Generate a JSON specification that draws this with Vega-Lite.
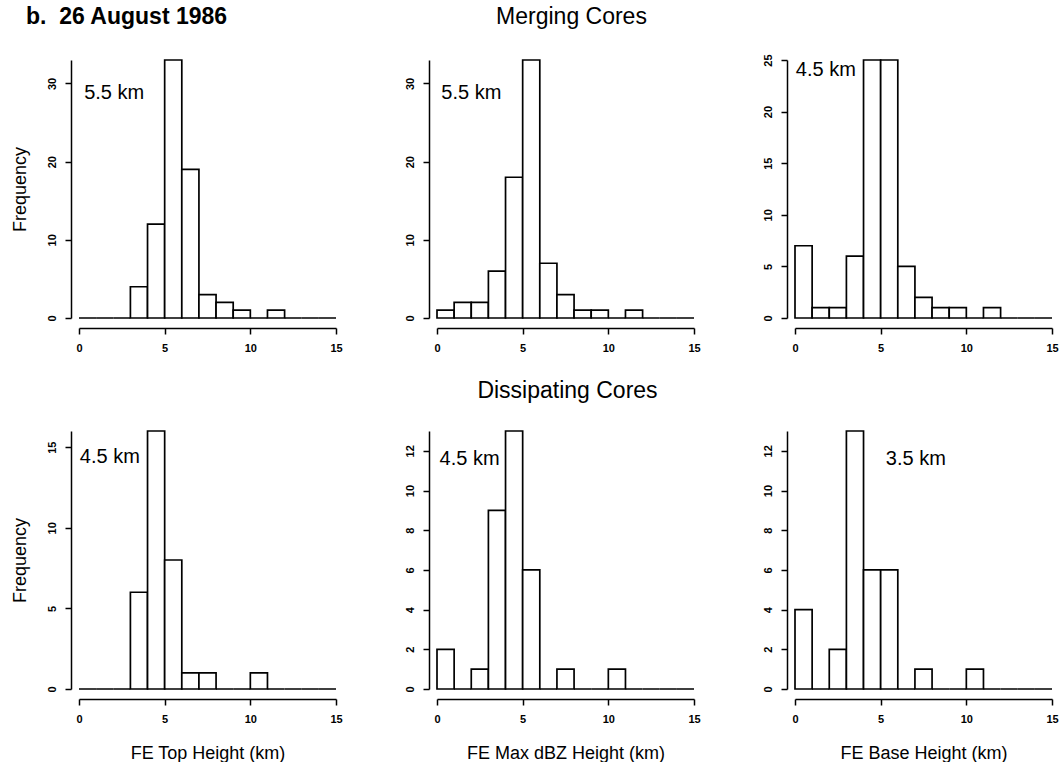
{
  "$schema": "https://vega.github.io/schema/vega-lite/v6.json",
  "padding": {"left": 11, "top": 6, "right": 0, "bottom": 0},
  "background": "white",
  "config": {
    "view": {"stroke": null},
    "font": "Liberation Sans",
    "axis": {
      "grid": false,
      "domainColor": "black",
      "domainWidth": 1.5,
      "tickColor": "black",
      "tickWidth": 1.5,
      "tickSize": 6,
      "labelFont": "Liberation Sans",
      "labelFontWeight": "bold",
      "labelFontSize": 11,
      "labelColor": "black",
      "titleFont": "Liberation Sans",
      "titleFontWeight": "normal",
      "titleFontSize": 18,
      "titleColor": "black"
    },
    "axisX": {"offset": 10, "labelPadding": 8, "titlePadding": 20, "labelFlush": false},
    "axisY": {"offset": 8, "labelAngle": 270, "labelAlign": "center", "labelBaseline": "bottom", "labelPadding": 8, "titlePadding": 17},
    "title": {"font": "Liberation Sans", "fontSize": 23, "color": "black", "fontWeight": "normal", "baseline": "alphabetic", "offset": 30},
    "text": {"font": "Liberation Sans", "fontSize": 20, "color": "black"}
  },
  "datasets": {
    "bins": [
      {"panel": "p1", "x0": 0, "x1": 1, "count": 0},
      {"panel": "p1", "x0": 1, "x1": 2, "count": 0},
      {"panel": "p1", "x0": 2, "x1": 3, "count": 0},
      {"panel": "p1", "x0": 3, "x1": 4, "count": 4},
      {"panel": "p1", "x0": 4, "x1": 5, "count": 12},
      {"panel": "p1", "x0": 5, "x1": 6, "count": 33},
      {"panel": "p1", "x0": 6, "x1": 7, "count": 19},
      {"panel": "p1", "x0": 7, "x1": 8, "count": 3},
      {"panel": "p1", "x0": 8, "x1": 9, "count": 2},
      {"panel": "p1", "x0": 9, "x1": 10, "count": 1},
      {"panel": "p1", "x0": 10, "x1": 11, "count": 0},
      {"panel": "p1", "x0": 11, "x1": 12, "count": 1},
      {"panel": "p1", "x0": 12, "x1": 13, "count": 0},
      {"panel": "p1", "x0": 13, "x1": 14, "count": 0},
      {"panel": "p1", "x0": 14, "x1": 15, "count": 0},
      {"panel": "p2", "x0": 0, "x1": 1, "count": 1},
      {"panel": "p2", "x0": 1, "x1": 2, "count": 2},
      {"panel": "p2", "x0": 2, "x1": 3, "count": 2},
      {"panel": "p2", "x0": 3, "x1": 4, "count": 6},
      {"panel": "p2", "x0": 4, "x1": 5, "count": 18},
      {"panel": "p2", "x0": 5, "x1": 6, "count": 33},
      {"panel": "p2", "x0": 6, "x1": 7, "count": 7},
      {"panel": "p2", "x0": 7, "x1": 8, "count": 3},
      {"panel": "p2", "x0": 8, "x1": 9, "count": 1},
      {"panel": "p2", "x0": 9, "x1": 10, "count": 1},
      {"panel": "p2", "x0": 10, "x1": 11, "count": 0},
      {"panel": "p2", "x0": 11, "x1": 12, "count": 1},
      {"panel": "p2", "x0": 12, "x1": 13, "count": 0},
      {"panel": "p2", "x0": 13, "x1": 14, "count": 0},
      {"panel": "p2", "x0": 14, "x1": 15, "count": 0},
      {"panel": "p3", "x0": 0, "x1": 1, "count": 7},
      {"panel": "p3", "x0": 1, "x1": 2, "count": 1},
      {"panel": "p3", "x0": 2, "x1": 3, "count": 1},
      {"panel": "p3", "x0": 3, "x1": 4, "count": 6},
      {"panel": "p3", "x0": 4, "x1": 5, "count": 25},
      {"panel": "p3", "x0": 5, "x1": 6, "count": 25},
      {"panel": "p3", "x0": 6, "x1": 7, "count": 5},
      {"panel": "p3", "x0": 7, "x1": 8, "count": 2},
      {"panel": "p3", "x0": 8, "x1": 9, "count": 1},
      {"panel": "p3", "x0": 9, "x1": 10, "count": 1},
      {"panel": "p3", "x0": 10, "x1": 11, "count": 0},
      {"panel": "p3", "x0": 11, "x1": 12, "count": 1},
      {"panel": "p3", "x0": 12, "x1": 13, "count": 0},
      {"panel": "p3", "x0": 13, "x1": 14, "count": 0},
      {"panel": "p3", "x0": 14, "x1": 15, "count": 0},
      {"panel": "p4", "x0": 0, "x1": 1, "count": 0},
      {"panel": "p4", "x0": 1, "x1": 2, "count": 0},
      {"panel": "p4", "x0": 2, "x1": 3, "count": 0},
      {"panel": "p4", "x0": 3, "x1": 4, "count": 6},
      {"panel": "p4", "x0": 4, "x1": 5, "count": 16},
      {"panel": "p4", "x0": 5, "x1": 6, "count": 8},
      {"panel": "p4", "x0": 6, "x1": 7, "count": 1},
      {"panel": "p4", "x0": 7, "x1": 8, "count": 1},
      {"panel": "p4", "x0": 8, "x1": 9, "count": 0},
      {"panel": "p4", "x0": 9, "x1": 10, "count": 0},
      {"panel": "p4", "x0": 10, "x1": 11, "count": 1},
      {"panel": "p4", "x0": 11, "x1": 12, "count": 0},
      {"panel": "p4", "x0": 12, "x1": 13, "count": 0},
      {"panel": "p4", "x0": 13, "x1": 14, "count": 0},
      {"panel": "p4", "x0": 14, "x1": 15, "count": 0},
      {"panel": "p5", "x0": 0, "x1": 1, "count": 2},
      {"panel": "p5", "x0": 1, "x1": 2, "count": 0},
      {"panel": "p5", "x0": 2, "x1": 3, "count": 1},
      {"panel": "p5", "x0": 3, "x1": 4, "count": 9},
      {"panel": "p5", "x0": 4, "x1": 5, "count": 13},
      {"panel": "p5", "x0": 5, "x1": 6, "count": 6},
      {"panel": "p5", "x0": 6, "x1": 7, "count": 0},
      {"panel": "p5", "x0": 7, "x1": 8, "count": 1},
      {"panel": "p5", "x0": 8, "x1": 9, "count": 0},
      {"panel": "p5", "x0": 9, "x1": 10, "count": 0},
      {"panel": "p5", "x0": 10, "x1": 11, "count": 1},
      {"panel": "p5", "x0": 11, "x1": 12, "count": 0},
      {"panel": "p5", "x0": 12, "x1": 13, "count": 0},
      {"panel": "p5", "x0": 13, "x1": 14, "count": 0},
      {"panel": "p5", "x0": 14, "x1": 15, "count": 0},
      {"panel": "p6", "x0": 0, "x1": 1, "count": 4},
      {"panel": "p6", "x0": 1, "x1": 2, "count": 0},
      {"panel": "p6", "x0": 2, "x1": 3, "count": 2},
      {"panel": "p6", "x0": 3, "x1": 4, "count": 13},
      {"panel": "p6", "x0": 4, "x1": 5, "count": 6},
      {"panel": "p6", "x0": 5, "x1": 6, "count": 6},
      {"panel": "p6", "x0": 6, "x1": 7, "count": 0},
      {"panel": "p6", "x0": 7, "x1": 8, "count": 1},
      {"panel": "p6", "x0": 8, "x1": 9, "count": 0},
      {"panel": "p6", "x0": 9, "x1": 10, "count": 0},
      {"panel": "p6", "x0": 10, "x1": 11, "count": 1},
      {"panel": "p6", "x0": 11, "x1": 12, "count": 0},
      {"panel": "p6", "x0": 12, "x1": 13, "count": 0},
      {"panel": "p6", "x0": 13, "x1": 14, "count": 0},
      {"panel": "p6", "x0": 14, "x1": 15, "count": 0}
    ],
    "notes": [
      {"panel": "p1", "label": "5.5 km"},
      {"panel": "p2", "label": "5.5 km"},
      {"panel": "p3", "label": "4.5 km"},
      {"panel": "p4", "label": "4.5 km"},
      {"panel": "p5", "label": "4.5 km"},
      {"panel": "p6", "label": "3.5 km"}
    ]
  },
  "columns": 3,
  "spacing": {"row": 113, "column": 101},
  "bounds": "flush",
  "concat": [
    {
      "width": 257, "height": 258,
      "title": {"text": "b.\u00a0 26 August 1986", "anchor": "start", "frame": "group", "dx": -53, "fontWeight": "bold"},
      "layer": [
        {
          "data": {"name": "bins"},
          "transform": [{"filter": "datum.panel == 'p1'"}],
          "mark": {"type": "rect", "fill": "white", "stroke": "black", "strokeWidth": 1.7},
          "encoding": {
            "x": {"field": "x0", "type": "quantitative", "scale": {"domain": [0, 15], "nice": false, "zero": false}, "axis": {"values": [0, 5, 10, 15], "title": null}},
            "x2": {"field": "x1"},
            "y": {"field": "count", "type": "quantitative", "scale": {"domain": [0, 33], "nice": false}, "axis": {"values": [0, 10, 20, 30], "title": "Frequency"}},
            "y2": {"datum": 0}
          }
        },
        {
          "data": {"name": "notes"},
          "transform": [{"filter": "datum.panel == 'p1'"}],
          "mark": {"type": "text", "align": "left", "baseline": "middle"},
          "encoding": {
            "x": {"datum": 0.3, "type": "quantitative"},
            "y": {"datum": 28.8, "type": "quantitative"},
            "text": {"field": "label"}
          }
        }
      ]
    },
    {
      "width": 257, "height": 258,
      "title": {"text": "Merging Cores", "anchor": "middle", "frame": "group", "dx": 6},
      "layer": [
        {
          "data": {"name": "bins"},
          "transform": [{"filter": "datum.panel == 'p2'"}],
          "mark": {"type": "rect", "fill": "white", "stroke": "black", "strokeWidth": 1.7},
          "encoding": {
            "x": {"field": "x0", "type": "quantitative", "scale": {"domain": [0, 15], "nice": false, "zero": false}, "axis": {"values": [0, 5, 10, 15], "title": null}},
            "x2": {"field": "x1"},
            "y": {"field": "count", "type": "quantitative", "scale": {"domain": [0, 33], "nice": false}, "axis": {"values": [0, 10, 20, 30], "title": null}},
            "y2": {"datum": 0}
          }
        },
        {
          "data": {"name": "notes"},
          "transform": [{"filter": "datum.panel == 'p2'"}],
          "mark": {"type": "text", "align": "left", "baseline": "middle"},
          "encoding": {
            "x": {"datum": 0.25, "type": "quantitative"},
            "y": {"datum": 28.8, "type": "quantitative"},
            "text": {"field": "label"}
          }
        }
      ]
    },
    {
      "width": 257, "height": 258,
      "layer": [
        {
          "data": {"name": "bins"},
          "transform": [{"filter": "datum.panel == 'p3'"}],
          "mark": {"type": "rect", "fill": "white", "stroke": "black", "strokeWidth": 1.7},
          "encoding": {
            "x": {"field": "x0", "type": "quantitative", "scale": {"domain": [0, 15], "nice": false, "zero": false}, "axis": {"values": [0, 5, 10, 15], "title": null}},
            "x2": {"field": "x1"},
            "y": {"field": "count", "type": "quantitative", "scale": {"domain": [0, 25], "nice": false}, "axis": {"values": [0, 5, 10, 15, 20, 25], "title": null}},
            "y2": {"datum": 0}
          }
        },
        {
          "data": {"name": "notes"},
          "transform": [{"filter": "datum.panel == 'p3'"}],
          "mark": {"type": "text", "align": "left", "baseline": "middle"},
          "encoding": {
            "x": {"datum": 0.05, "type": "quantitative"},
            "y": {"datum": 24, "type": "quantitative"},
            "text": {"field": "label"}
          }
        }
      ]
    },
    {
      "width": 257, "height": 258,
      "layer": [
        {
          "data": {"name": "bins"},
          "transform": [{"filter": "datum.panel == 'p4'"}],
          "mark": {"type": "rect", "fill": "white", "stroke": "black", "strokeWidth": 1.7},
          "encoding": {
            "x": {"field": "x0", "type": "quantitative", "scale": {"domain": [0, 15], "nice": false, "zero": false}, "axis": {"values": [0, 5, 10, 15], "title": "FE Top Height (km)"}},
            "x2": {"field": "x1"},
            "y": {"field": "count", "type": "quantitative", "scale": {"domain": [0, 16], "nice": false}, "axis": {"values": [0, 5, 10, 15], "title": "Frequency"}},
            "y2": {"datum": 0}
          }
        },
        {
          "data": {"name": "notes"},
          "transform": [{"filter": "datum.panel == 'p4'"}],
          "mark": {"type": "text", "align": "left", "baseline": "middle"},
          "encoding": {
            "x": {"datum": 0.05, "type": "quantitative"},
            "y": {"datum": 14.4, "type": "quantitative"},
            "text": {"field": "label"}
          }
        }
      ]
    },
    {
      "width": 257, "height": 258,
      "title": {"text": "Dissipating Cores", "anchor": "middle", "frame": "group", "dx": 2, "offset": 27},
      "layer": [
        {
          "data": {"name": "bins"},
          "transform": [{"filter": "datum.panel == 'p5'"}],
          "mark": {"type": "rect", "fill": "white", "stroke": "black", "strokeWidth": 1.7},
          "encoding": {
            "x": {"field": "x0", "type": "quantitative", "scale": {"domain": [0, 15], "nice": false, "zero": false}, "axis": {"values": [0, 5, 10, 15], "title": "FE Max dBZ Height (km)"}},
            "x2": {"field": "x1"},
            "y": {"field": "count", "type": "quantitative", "scale": {"domain": [0, 13], "nice": false}, "axis": {"values": [0, 2, 4, 6, 8, 10, 12], "title": null}},
            "y2": {"datum": 0}
          }
        },
        {
          "data": {"name": "notes"},
          "transform": [{"filter": "datum.panel == 'p5'"}],
          "mark": {"type": "text", "align": "left", "baseline": "middle"},
          "encoding": {
            "x": {"datum": 0.15, "type": "quantitative"},
            "y": {"datum": 11.6, "type": "quantitative"},
            "text": {"field": "label"}
          }
        }
      ]
    },
    {
      "width": 257, "height": 258,
      "layer": [
        {
          "data": {"name": "bins"},
          "transform": [{"filter": "datum.panel == 'p6'"}],
          "mark": {"type": "rect", "fill": "white", "stroke": "black", "strokeWidth": 1.7},
          "encoding": {
            "x": {"field": "x0", "type": "quantitative", "scale": {"domain": [0, 15], "nice": false, "zero": false}, "axis": {"values": [0, 5, 10, 15], "title": "FE Base Height (km)"}},
            "x2": {"field": "x1"},
            "y": {"field": "count", "type": "quantitative", "scale": {"domain": [0, 13], "nice": false}, "axis": {"values": [0, 2, 4, 6, 8, 10, 12], "title": null}},
            "y2": {"datum": 0}
          }
        },
        {
          "data": {"name": "notes"},
          "transform": [{"filter": "datum.panel == 'p6'"}],
          "mark": {"type": "text", "align": "left", "baseline": "middle"},
          "encoding": {
            "x": {"datum": 5.3, "type": "quantitative"},
            "y": {"datum": 11.6, "type": "quantitative"},
            "text": {"field": "label"}
          }
        }
      ]
    }
  ]
}
